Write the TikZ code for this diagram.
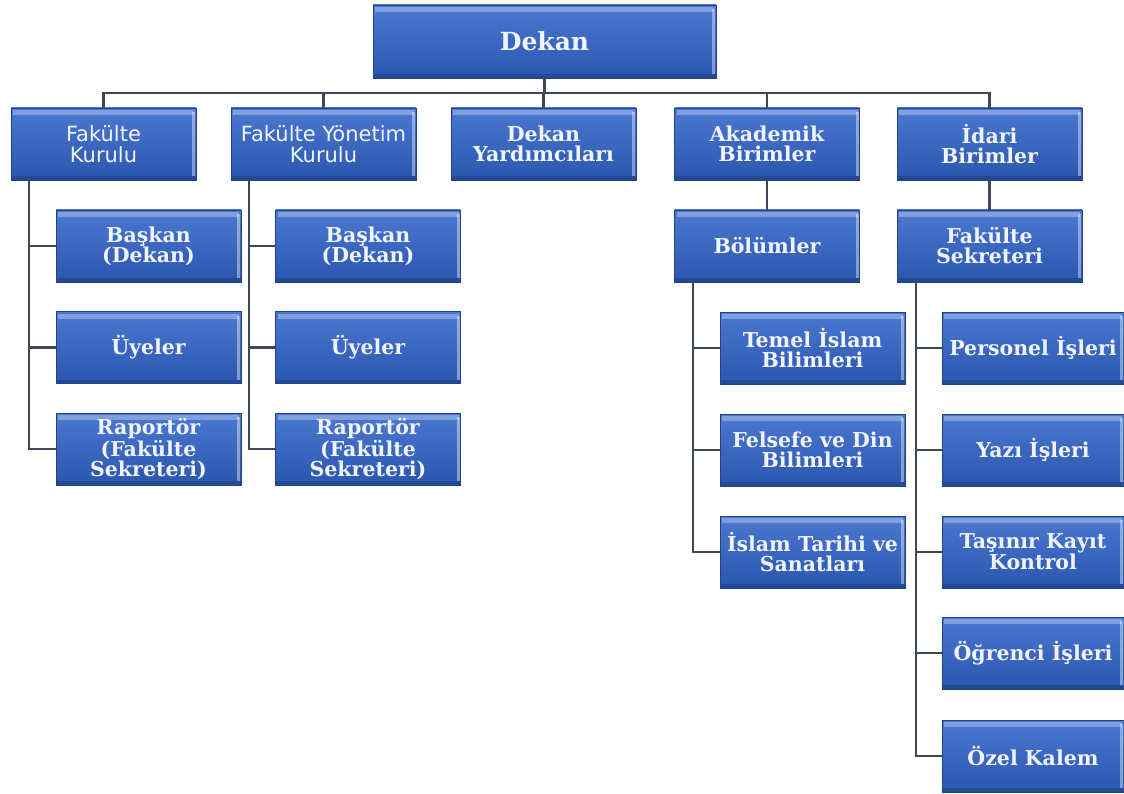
\documentclass[tikz,border=0pt]{standalone}
\usepackage{fontspec}
\setmainfont{DejaVu Serif}
\newfontfamily\boxsans{DejaVu Sans}
\definecolor{boxtop}{RGB}{76,120,210}
\definecolor{boxbot}{RGB}{42,86,174}
\definecolor{boxedge}{RGB}{34,66,140}
\definecolor{linkcol}{RGB}{62,72,88}
\definecolor{txtcol}{RGB}{240,244,255}
\tikzset{
  orgbox/.style={draw=boxedge, line width=0.8pt, top color=boxtop, bottom color=boxbot,
    minimum width=185pt, minimum height=72pt, inner sep=1pt, align=center,
    text=txtcol, font=\bfseries\fontsize{20.5}{20}\selectfont,
    path picture={
      \fill[white,opacity=0.3] ([xshift=2pt,yshift=-2pt]path picture bounding box.north west) rectangle ([xshift=-2pt,yshift=-7pt]path picture bounding box.north east);
      \fill[white,opacity=0.4] ([xshift=-4pt,yshift=-4pt]path picture bounding box.north east) rectangle ([xshift=-1pt,yshift=4pt]path picture bounding box.south east);
      \fill[black,opacity=0.15] ([yshift=4pt]path picture bounding box.south west) rectangle (path picture bounding box.south east);
    }},
  sansbox/.style={orgbox, font=\boxsans\fontsize{21}{21}\selectfont},
  link/.style={draw=linkcol, line width=2.2pt}
}
\begin{document}
\begin{tikzpicture}[x=1pt,y=-1pt]
\useasboundingbox[fill=white] (0,0) rectangle (1124,794);
% top
\node[orgbox, minimum width=343pt, minimum height=73pt, font=\bfseries\fontsize{25}{26}\selectfont] (dekan) at (544.5,41.5) {Dekan};
% level 1
\node[sansbox] (fk)  at (103.5,144) {Fakülte\\Kurulu};
\node[sansbox] (fyk) at (323.5,144) {Fakülte Yönetim\\Kurulu};
\node[orgbox]  (dy)  at (543.5,144) {Dekan\\Yardımcıları};
\node[orgbox]  (ab)  at (767,144) {Akademik\\Birimler};
\node[orgbox]  (ib)  at (989.5,144) {İdari\\Birimler};
% level 2 left
\node[orgbox] (b1) at (148.5,246) {Başkan\\(Dekan)};
\node[orgbox] (u1) at (148.5,347.5) {Üyeler};
\node[orgbox] (r1) at (148.5,449) {Raportör\\(Fakülte\\Sekreteri)};
\node[orgbox] (b2) at (368,246) {Başkan\\(Dekan)};
\node[orgbox] (u2) at (368,347.5) {Üyeler};
\node[orgbox] (r2) at (368,449) {Raportör\\(Fakülte\\Sekreteri)};
% level 2 right
\node[orgbox] (bol) at (767,246) {Bölümler};
\node[orgbox] (fs)  at (989.5,246) {Fakülte\\Sekreteri};
\node[orgbox] (d1) at (812.5,348) {Temel İslam\\Bilimleri};
\node[orgbox] (d2) at (812.5,450) {Felsefe ve Din\\Bilimleri};
\node[orgbox] (d3) at (812.5,552) {İslam Tarihi ve\\Sanatları};
\node[orgbox, minimum width=182pt] (p1) at (1033,348) {Personel İşleri};
\node[orgbox, minimum width=182pt] (p2) at (1033,450) {Yazı İşleri};
\node[orgbox, minimum width=182pt] (p3) at (1033,552) {Taşınır Kayıt\\Kontrol};
\node[orgbox, minimum width=182pt] (p4) at (1033,653) {Öğrenci İşleri};
\node[orgbox, minimum width=182pt] (p5) at (1033,756) {Özel Kalem};
% connectors
\foreach \n in {fk,fyk,dy,ab,ib}{\draw[link] (dekan.south) -- ++(0,15) -| (\n.north);}
\draw[link] (ab.south) -- (bol.north);
\draw[link] (ib.south) -- (fs.north);
\foreach \n in {b1,u1,r1}{\draw[link] (fk.south west) ++(18,0) |- (\n.west);}
\foreach \n in {b2,u2,r2}{\draw[link] (fyk.south west) ++(18,0) |- (\n.west);}
\foreach \n in {d1,d2,d3}{\draw[link] (bol.south west) ++(19,0) |- (\n.west);}
\foreach \n in {p1,p2,p3,p4,p5}{\draw[link] (fs.south west) ++(19,0) |- (\n.west);}
\end{tikzpicture}
\end{document}
